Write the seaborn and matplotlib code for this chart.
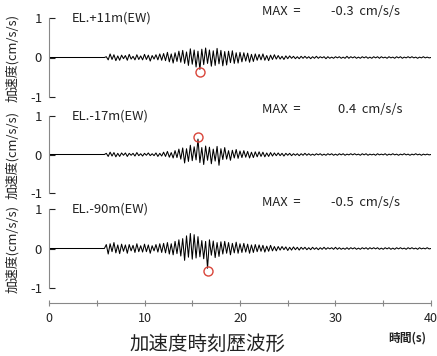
import numpy as np
import seaborn as sns
import matplotlib
matplotlib.use('Agg')
import matplotlib.pyplot as plt

sns.set_theme(style='ticks')
plt.rcParams['font.family'] = ['Noto Sans CJK JP', 'DejaVu Sans']

# station labels and peak values
stations = ['EL.+11m(EW)', 'EL.-17m(EW)', 'EL.-90m(EW)']
max_values = [-0.3, 0.4, -0.5]

onset = 6.0
dt = 0.2

acc_p11 = [
    0.02, -0.06, 0.09, -0.05, 0.07, -0.08, 0.04, -0.07, 0.06, -0.03,
    0.05, -0.07, 0.08, -0.04, 0.03, -0.06, 0.07, -0.05, 0.04, -0.06,
    0.08, -0.05, 0.06, -0.09, 0.05, -0.04, 0.07, -0.06, 0.09, -0.07,
    0.10, -0.08, 0.13, -0.11, 0.09, -0.14, 0.12, -0.10, 0.16, -0.12,
    0.18, -0.15, 0.14, -0.20, 0.22, -0.17, 0.19, -0.24, 0.16, -0.30,
    0.21, -0.18, 0.24, -0.15, 0.19, -0.22, 0.17, -0.20, 0.23, -0.16,
    0.18, -0.21, 0.15, -0.19, 0.16, -0.13, 0.17, -0.15, 0.12, -0.14,
    0.13, -0.11, 0.12, -0.09, 0.11, -0.12, 0.08, -0.10, 0.09, -0.07,
    0.08, -0.06, 0.09, -0.07, 0.05, -0.08, 0.06, -0.05, 0.07, -0.04,
    0.05, -0.04, 0.03, -0.05, 0.04, -0.03, 0.04, -0.02, 0.03, -0.03,
    0.02, -0.03, 0.03, -0.02, 0.03, -0.02, 0.02, -0.03, 0.02, -0.02,
    0.03, -0.02, 0.02, -0.01, 0.02, -0.03, 0.02, -0.02, 0.01, -0.02,
    0.02, -0.01, 0.02, -0.02, 0.01, -0.02, 0.03, -0.02, 0.02, -0.01,
    0.02, -0.02, 0.01, -0.02, 0.02, -0.01, 0.02, -0.02, 0.01, -0.02,
    0.02, -0.01, 0.02, -0.02, 0.02, -0.01, 0.01, -0.02, 0.02, -0.01,
    0.01, -0.02, 0.02, -0.01, 0.02, -0.02, 0.01, -0.01, 0.02, -0.01,
    0.02, -0.01, 0.01, -0.02, 0.01, -0.01, 0.02, -0.01, 0.01, -0.01,
    0.0,
]

acc_m17 = [
    0.03, -0.05, 0.06, -0.04, 0.05, -0.06, 0.03, -0.05, 0.04, -0.02,
    0.04, -0.05, 0.03, -0.02, 0.03, -0.04, 0.05, -0.03, 0.02, -0.04,
    0.03, -0.02, 0.04, -0.03, 0.02, -0.03, 0.04, -0.05, 0.03, -0.04,
    0.06, -0.05, 0.08, -0.07, 0.05, -0.09, 0.10, -0.08, 0.14, -0.12,
    0.17, -0.22, 0.15, -0.18, 0.24, -0.16, 0.20, -0.14, 0.40, -0.21,
    0.18, -0.26, 0.22, -0.15, 0.19, -0.24, 0.14, -0.17, 0.21, -0.28,
    0.15, -0.13, 0.18, -0.12, 0.10, -0.15, 0.11, -0.09, 0.13, -0.10,
    0.09, -0.08, 0.10, -0.07, 0.08, -0.09, 0.06, -0.08, 0.07, -0.06,
    0.07, -0.05, 0.06, -0.06, 0.04, -0.05, 0.05, -0.04, 0.04, -0.03,
    0.04, -0.03, 0.03, -0.04, 0.03, -0.02, 0.03, -0.03, 0.02, -0.02,
    0.02, -0.03, 0.02, -0.02, 0.03, -0.02, 0.02, -0.02, 0.01, -0.02,
    0.02, -0.01, 0.02, -0.02, 0.01, -0.02, 0.02, -0.01, 0.02, -0.02,
    0.01, -0.02, 0.02, -0.01, 0.02, -0.02, 0.01, -0.01, 0.02, -0.01,
    0.02, -0.01, 0.01, -0.02, 0.02, -0.01, 0.02, -0.02, 0.01, -0.01,
    0.01, -0.02, 0.02, -0.01, 0.01, -0.01, 0.02, -0.02, 0.01, -0.01,
    0.02, -0.01, 0.01, -0.02, 0.01, -0.01, 0.02, -0.01, 0.01, -0.02,
    0.01, -0.01, 0.02, -0.01, 0.01, -0.02, 0.01, -0.01, 0.01, -0.01,
    0.0,
]

acc_m90 = [
    0.10, -0.14, 0.12, -0.08, 0.15, -0.11, 0.09, -0.13, 0.11, -0.07,
    0.09, -0.12, 0.10, -0.06, 0.08, -0.10, 0.12, -0.08, 0.07, -0.09,
    0.11, -0.08, 0.09, -0.12, 0.07, -0.06, 0.10, -0.09, 0.12, -0.10,
    0.13, -0.11, 0.15, -0.14, 0.12, -0.16, 0.18, -0.13, 0.22, -0.19,
    0.25, -0.30, 0.32, -0.22, 0.38, -0.27, 0.35, -0.24, 0.30, -0.21,
    0.20, -0.26, 0.18, -0.50, 0.22, -0.17, 0.19, -0.23, 0.15, -0.20,
    0.17, -0.14, 0.18, -0.12, 0.15, -0.16, 0.13, -0.11, 0.16, -0.12,
    0.12, -0.10, 0.13, -0.09, 0.11, -0.12, 0.09, -0.10, 0.10, -0.08,
    0.09, -0.07, 0.08, -0.09, 0.06, -0.07, 0.08, -0.06, 0.05, -0.06,
    0.05, -0.04, 0.05, -0.03, 0.04, -0.05, 0.03, -0.04, 0.04, -0.03,
    0.03, -0.04, 0.03, -0.02, 0.03, -0.03, 0.02, -0.03, 0.03, -0.02,
    0.02, -0.03, 0.02, -0.02, 0.03, -0.02, 0.02, -0.01, 0.02, -0.02,
    0.03, -0.02, 0.02, -0.02, 0.01, -0.02, 0.02, -0.02, 0.02, -0.01,
    0.02, -0.02, 0.01, -0.02, 0.02, -0.01, 0.02, -0.02, 0.02, -0.01,
    0.02, -0.01, 0.02, -0.02, 0.01, -0.02, 0.02, -0.01, 0.02, -0.02,
    0.01, -0.02, 0.02, -0.01, 0.02, -0.01, 0.01, -0.02, 0.02, -0.01,
    0.02, -0.01, 0.01, -0.02, 0.02, -0.01, 0.01, -0.01, 0.02, -0.01,
    0.0,
]

records = [acc_p11, acc_m17, acc_m90]

fig = plt.figure(figsize=(4.37, 3.56), dpi=100)
W, H = 437, 356
# pixel rows of y=+1 and y=-1 for each panel
panel_px = [(18, 97), (116, 193), (209, 288)]
x0, x1 = 49, 431
txt = '#222222'

for i, (top, bot) in enumerate(panel_px):
    ax = fig.add_axes([x0 / W, 1 - bot / H, (x1 - x0) / W, (bot - top) / H])
    vals = np.array(records[i])
    t = onset + dt * np.arange(len(vals))
    # quiet part before the onset
    tt = np.concatenate([[0.0, onset - dt], t])
    vv = np.concatenate([[0.0, 0.0], vals])
    sns.lineplot(x=tt, y=vv, ax=ax, color='black', lw=0.75,
                 estimator=None, sort=False)
    k = int(np.argmax(np.abs(vals)))
    pk = vals[k]
    ax.plot(t[k], pk + np.sign(pk) * 0.06, 'o', ms=6.5, mfc='none',
            mec='#d9453a', mew=1.0, clip_on=False)

    ax.set_xlim(0, 40)
    ax.set_ylim(-1, 1)
    ax.set_yticks([-1, 0, 1])
    ax.set_yticklabels(['-1', '0', '1'])
    ax.tick_params(axis='y', direction='in', length=4, width=0.8,
                   pad=5, labelsize=9.5, colors=txt)
    for s in ['top', 'right', 'bottom']:
        ax.spines[s].set_visible(False)
    ax.spines['left'].set_color('#888888')
    ax.spines['left'].set_linewidth(0.8)
    ax.set_facecolor('none')

    ax.text(2.4, 1.0, stations[i], fontsize=9.3, va='center', ha='left',
            color=txt)
    ax.text(22.3, 1.16, 'MAX  =', fontsize=9.3, va='center', ha='left',
            color=txt)
    xv = 29.5 if max_values[i] < 0 else 30.3
    ax.text(xv, 1.16, f'{max_values[i]:.1f}  cm/s/s', fontsize=9.3,
            va='center', ha='left', color=txt)

    fig.text(12 / W, 1 - (top + bot) / 2 / H, '加速度(cm/s/s)', rotation=90,
             fontsize=9.3, ha='center', va='center', color=txt)
    ax.set_xlabel('')
    ax.set_ylabel('')
    ax.set_xticks([])

# bottom time axis
axb = fig.add_axes([x0 / W, 1 - 303 / H, (x1 - x0) / W, 0.001])
axb.set_xlim(0, 40)
axb.set_yticks([])
for s in ['top', 'right', 'left']:
    axb.spines[s].set_visible(False)
axb.spines['bottom'].set_color('#888888')
axb.spines['bottom'].set_linewidth(0.8)
axb.set_xticks([0, 10, 20, 30, 40])
axb.set_xticks([5, 15, 25, 35], minor=True)
axb.tick_params(axis='x', which='both', direction='inout', length=5,
                width=0.8, color='#888888', pad=4, labelsize=9,
                labelcolor=txt)
axb.set_facecolor('none')

fig.text(407 / W, 1 - 338 / H, '時間(s)', fontsize=8.5, ha='center',
         va='center', color=txt, fontweight='bold')
fig.text(207 / W, 1 - 355 / H, '加速度時刻歴波形', fontsize=14,
         ha='center', va='bottom', color=txt)

fig.savefig('out.png', dpi=100)
